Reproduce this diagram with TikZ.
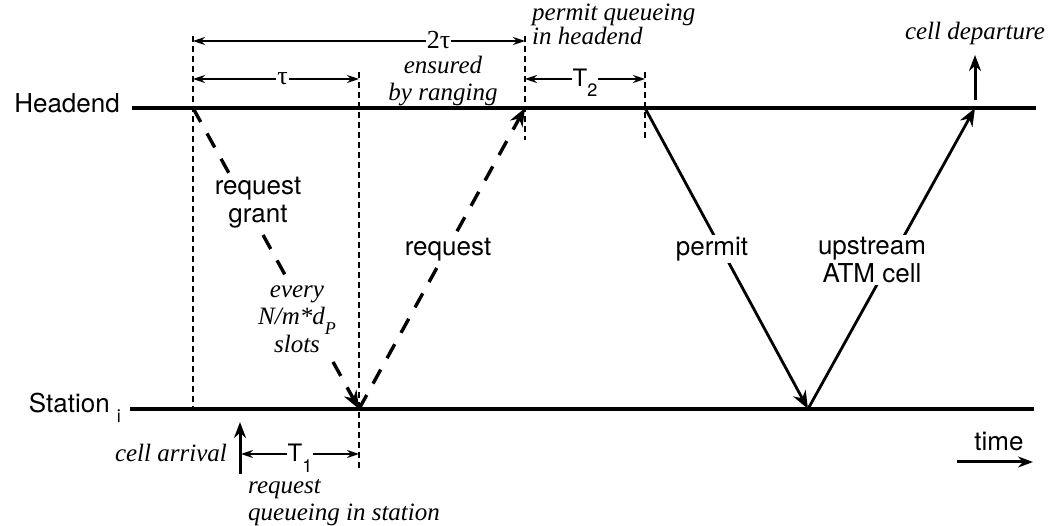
\documentclass[tikz,border=0pt]{standalone}
\usepackage{fontspec}
\setmainfont{Liberation Serif}
\setsansfont{TeX Gyre Heros}
\usetikzlibrary{arrows.meta, positioning}
\newcommand{\lowidx}[1]{\raisebox{-10pt}{\fontsize{18}{18}\selectfont #1}}

\begin{document}
\begin{tikzpicture}[x=1pt, y=-1pt,
  axis/.style={line width=3.2pt},
  guide/.style={line width=1.4pt, dash pattern=on 6pt off 4pt},
  span/.style={line width=1.4pt, {Stealth[length=12pt,width=8pt]}-{Stealth[length=12pt,width=8pt]}},
  msgdash/.style={line width=3.4pt, dash pattern=on 16pt off 13pt, -{Stealth[length=18pt,width=14pt]}},
  msg/.style={line width=2.8pt, -{Stealth[length=18pt,width=14pt]}},
  lbl/.style={font=\fontsize{26}{28}\selectfont\sffamily, align=center, inner sep=2pt, fill=white},
  note/.style={font=\fontsize{25}{27}\selectfont\itshape, align=center, inner sep=1pt},
  dimlbl/.style={font=\fontsize{26}{28}\selectfont, inner sep=1pt, fill=white}
]
\useasboundingbox (0,0) rectangle (1058,526);

% the two time lines
\node[lbl, inner sep=0, anchor=base east] (headend) at (120,113) {Headend};
\node[lbl, inner sep=0, anchor=base east] (station) at (121,413) {Station\hspace{7pt}\lowidx{i}};
\coordinate (h0) at (132,108);
\coordinate (h1) at (1036,108);
\coordinate (s0) at (130,409);
\coordinate (s1) at (1034,409);
\draw[axis] (h0) -- (h1);
\draw[axis] (s0) -- (s1);

% events on the lines
\coordinate (grantTx) at (193,108);
\coordinate (grantRx) at (359,409);
\coordinate (reqRx) at (525,108);
\coordinate (permitTx) at (645,108);
\coordinate (permitRx) at (808,409);
\coordinate (cellRx) at (975,108);

% dashed guides
\coordinate (g1top) at (193,36);
\coordinate (g2top) at (359,72);
\coordinate (g2bot) at (359,469);
\coordinate (g3top) at (525,36);
\coordinate (g3bot) at (525,140);
\coordinate (g4top) at (645,72);
\coordinate (g4bot) at (645,140);
\draw[guide] (g1top) -- (grantTx |- s0);
\draw[guide] (g2top) -- (g2bot);
\draw[guide] (g3top) -- (g3bot);
\draw[guide] (g4top) -- (g4bot);

% spans
\coordinate (twotauL) at (193,41);
\coordinate (twotauR) at (525,41);
\coordinate (tauL) at (193,79);
\coordinate (tauR) at (359,79);
\coordinate (ttwoL) at (525,79);
\coordinate (ttwoR) at (645,79);
\coordinate (toneL) at (241,454);
\coordinate (toneR) at (359,454);
\draw[span] (twotauL) -- node[dimlbl, pos=.74, anchor=base, yshift=-8pt] (twotau) {2τ} (twotauR);
\draw[span] (tauL) -- node[dimlbl, pos=.54, anchor=base, yshift=-6pt] (tau) {τ} (tauR);
\draw[span] (ttwoL) -- node[dimlbl, font=\fontsize{24}{28}\selectfont\sffamily, midway, anchor=base, yshift=-8pt] (ttwo) {T\lowidx{2}} (ttwoR);
\draw[span] (toneL) -- node[dimlbl, font=\fontsize{24}{28}\selectfont\sffamily, midway, anchor=base, yshift=-8pt] (tone) {T\lowidx{1}} (toneR);

% messages
\draw[msgdash] (grantTx) -- (grantRx);
\draw[msgdash] (grantRx) -- (reqRx);
\draw[msg] (permitTx) -- (permitRx);
\draw[msg] (permitRx) -- (cellRx);
\node[lbl] (grant) at (258,203) {request\\grant};
\node[note, fill=white, font=\fontsize{25}{27.5}\selectfont\itshape] (every) at (297,319) {every\\N/m*d\lowidx{\itshape P}\\slots};
\node[lbl] (request) at (448,250) {request};
\node[lbl] (permit) at (712,249) {permit};
\node[lbl] (upstream) at (872,260) {upstream\\ATM cell};
\node[note] (ranging) at (443,81) {ensured\\by ranging};

% cell arrival and departure
\coordinate (arrBot) at (240,474);
\coordinate (arrTop) at (240,422);
\draw[msg, line width=3pt, -{Stealth[length=16pt,width=12pt]}] (arrBot) -- (arrTop);
\node[note, anchor=base east] (arrival) at (228,462) {cell arrival};
\coordinate (depBot) at (975,100);
\coordinate (depTop) at (975,55);
\draw[msg, line width=3pt, -{Stealth[length=16pt,width=12pt]}] (depBot) -- (depTop);
\node[note, anchor=base] (departure) at (975,40) {cell departure};

% queueing notes
\node[note, align=left, anchor=west, font=\fontsize{25}{24}\selectfont\itshape] (hqueue) at (531,24) {permit queueing\\in headend};
\node[note, align=left, anchor=west] (squeue) at (247,503) {request\\queueing in station};

% time axis
\coordinate (t0) at (957,462);
\coordinate (t1) at (1033,462);
\draw[msg, line width=3pt, -{Stealth[length=15pt,width=11pt]}] (t0) -- (t1);
\node[lbl, anchor=base] (time) at (999,451) {time};
\end{tikzpicture}
\end{document}
